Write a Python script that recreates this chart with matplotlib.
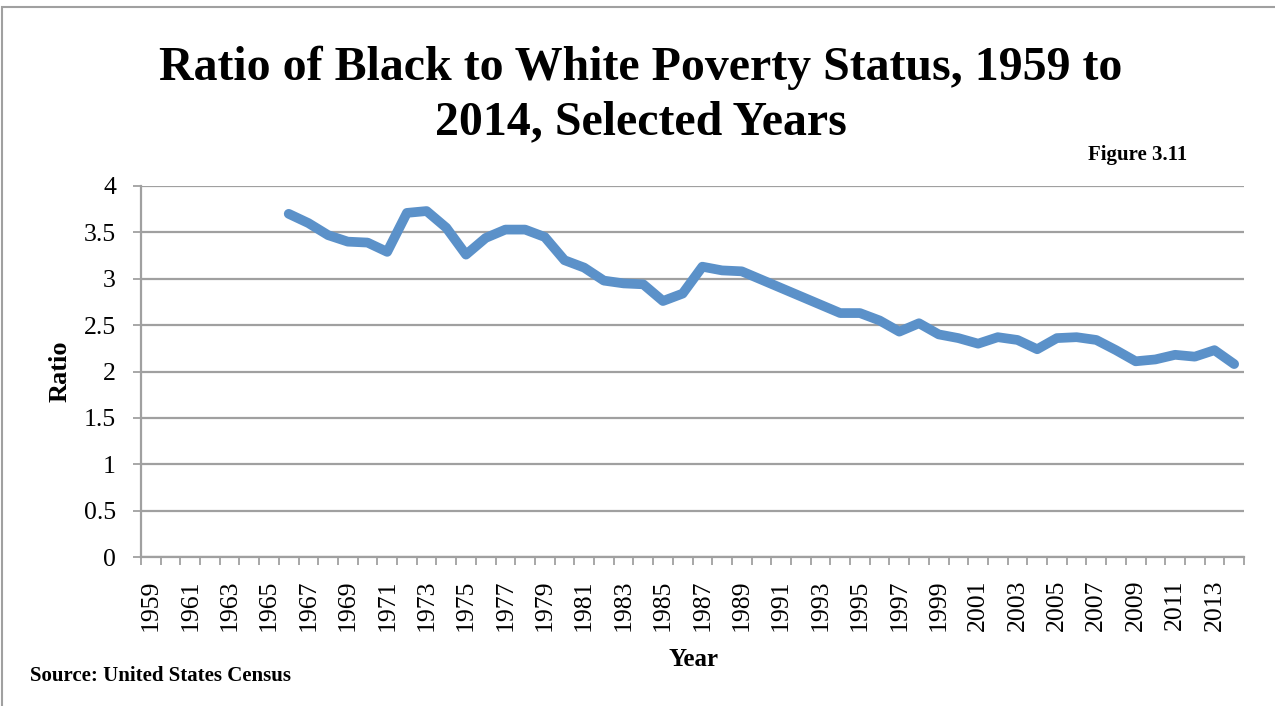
import matplotlib
matplotlib.use("Agg")
import matplotlib.pyplot as plt
from matplotlib.patches import Rectangle
import numpy as np

years = list(range(1959, 2015))
data_years = list(range(1966, 2015))
ratio = [3.70, 3.60, 3.47, 3.40, 3.39, 3.29, 3.71, 3.73, 3.55, 3.26,
         3.44, 3.53, 3.53, 3.45, 3.20, 3.12, 2.98, 2.95, 2.94, 2.76,
         2.84, 3.13, 3.09, 3.08, 2.99, 2.90, 2.81, 2.72, 2.63, 2.63,
         2.55, 2.43, 2.52, 2.40, 2.36, 2.30, 2.37, 2.34, 2.24, 2.36,
         2.37, 2.34, 2.23, 2.11, 2.13, 2.18, 2.16, 2.23, 2.08]
yticks = [0, 0.5, 1, 1.5, 2, 2.5, 3, 3.5, 4]
ytick_labels = ["0", "0.5", "1", "1.5", "2", "2.5", "3", "3.5", "4"]
label_years = years[::2]

title1 = "Ratio of Black to White Poverty Status, 1959 to"
title2 = "2014, Selected Years"

W, H = 1275, 706
fig = plt.figure(figsize=(W / 100, H / 100), dpi=100)
serif = ["Liberation Serif", "DejaVu Serif"]

# outer chart border
fig.patches.append(Rectangle((2 / W, -0.05), 1.2, 1 - 6.5 / H + 0.05,
                             transform=fig.transFigure, fill=False,
                             edgecolor="#a0a0a0", linewidth=1.5))

ax = fig.add_axes([141 / W, 1 - 557 / H, (1244 - 141) / W, (557 - 186) / H])
idx = {y: i for i, y in enumerate(years)}
xs = [idx[y] for y in data_years]
ax.plot(xs, ratio, color="#5b91c9", linewidth=7.0,
        solid_capstyle="round", solid_joinstyle="round", zorder=3)

ax.set_xlim(-0.5, len(years) - 0.5)
ax.set_ylim(0, 4)
ax.set_yticks(yticks)
ax.set_yticklabels(ytick_labels, fontfamily=serif, fontsize=18.5)
ax.grid(axis="y", color="#a0a0a0", linewidth=1.6)
ax.set_axisbelow(True)

ax.set_xticks([idx[y] for y in label_years])
ax.set_xticklabels([str(y) for y in label_years], rotation=90,
                   fontfamily=serif, fontsize=18.5)
ax.set_xticks(np.arange(-0.5, len(years), 1.0), minor=True)
ax.tick_params(axis="x", which="major", length=0, pad=16)
ax.tick_params(axis="x", which="minor", length=6, width=1.3, color="#a0a0a0")
ax.tick_params(axis="y", length=6, width=1.3, color="#a0a0a0", pad=12)

for s in ["top", "right"]:
    ax.spines[s].set_visible(False)
for s in ["left", "bottom"]:
    ax.spines[s].set_color("#a0a0a0")
    ax.spines[s].set_linewidth(1.6)

fig.text(641 / W, 1 - 68 / H, title1, ha="center", va="center",
         fontfamily=serif, fontweight="bold", fontsize=34.5)
fig.text(641 / W, 1 - 122 / H, title2, ha="center", va="center",
         fontfamily=serif, fontweight="bold", fontsize=34.5)
fig.text(1187 / W, 1 - 155 / H, "Figure 3.11", ha="right", va="center",
         fontfamily=serif, fontweight="bold", fontsize=15)
fig.text(60 / W, 1 - 371 / H, "Ratio", ha="center", va="center", rotation=90,
         fontfamily=serif, fontweight="bold", fontsize=19)
fig.text(693 / W, 1 - 660 / H, "Year", ha="center", va="center",
         fontfamily=serif, fontweight="bold", fontsize=18)
fig.text(30 / W, 1 - 676 / H, "Source: United States Census", ha="left",
         va="center", fontfamily=serif, fontweight="bold", fontsize=15)

fig.savefig("out.png", dpi=100)
